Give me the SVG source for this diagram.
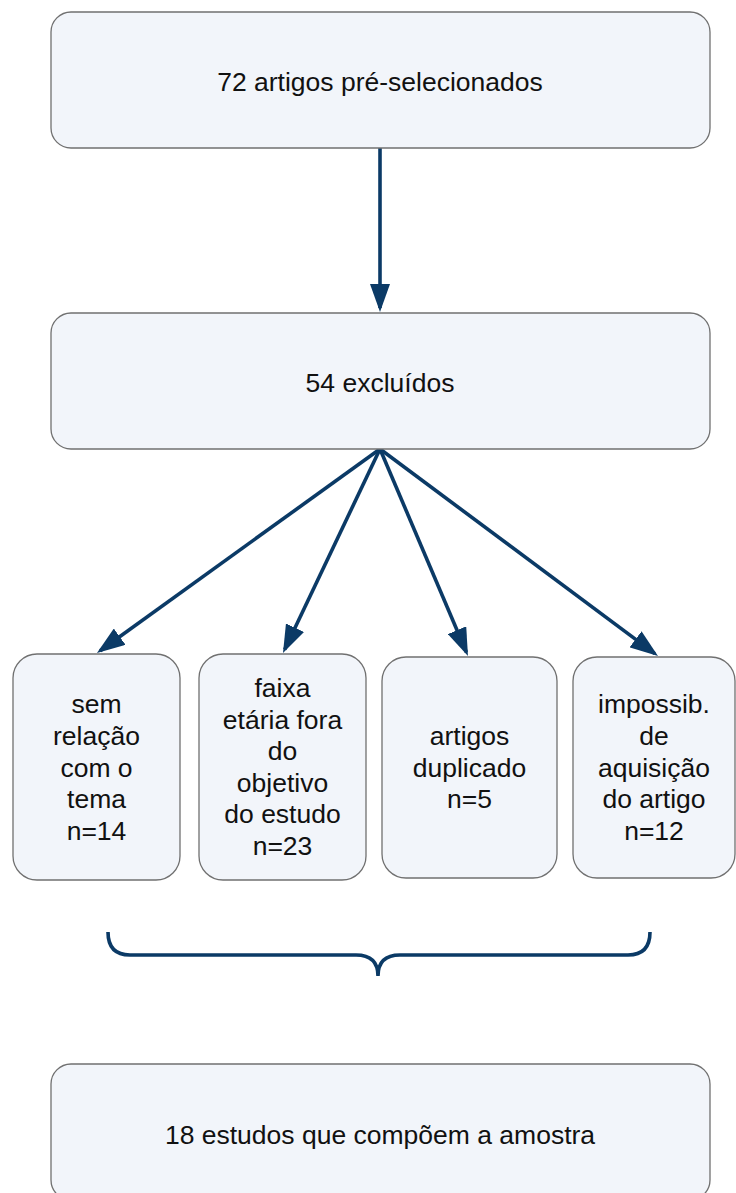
<svg xmlns="http://www.w3.org/2000/svg" width="736" height="1193" viewBox="0 0 736 1193">
<style>
.box{fill:#f2f5fa;stroke:#707070;stroke-width:1.3}
.t{font-family:"Liberation Sans",Arial,sans-serif;font-size:26.5px;fill:#111;text-anchor:middle}
.c{stroke:#0b3a66;stroke-width:3.6;fill:none}
</style>
<defs>
<marker id="ah" markerUnits="userSpaceOnUse" markerWidth="28" markerHeight="20" refX="24" refY="10" orient="auto" viewBox="0 0 28 20">
<path d="M0,0 L28,10 L0,20 Z" fill="#0b3a66"/>
</marker>
</defs>
<rect width="736" height="1193" fill="#ffffff"/>
<g id="connectors">
<line class="c" x1="380" y1="148" x2="380" y2="308" marker-end="url(#ah)"/>
<line class="c" x1="380" y1="449" x2="100.2" y2="650.7" marker-end="url(#ah)"/>
<line class="c" x1="380" y1="449" x2="284.7" y2="649.4" marker-end="url(#ah)"/>
<line class="c" x1="380" y1="449" x2="466.4" y2="652.3" marker-end="url(#ah)"/>
<line class="c" x1="380" y1="449" x2="654.8" y2="653.6" marker-end="url(#ah)"/>
<path id="brace" class="c" d="M108,932 Q108,955 130,955 L356,955 Q378,955 378,976 M650,932 Q650,955 628,955 L400,955 Q378,955 378,976"/>
</g>
<g id="n1"><rect class="box" x="51" y="12" width="659" height="136" rx="20"/><text class="t" x="380" y="91">72 artigos pré-selecionados</text></g>
<g id="n2"><rect class="box" x="51" y="313" width="659" height="136" rx="20"/><text class="t" x="380" y="392">54 excluídos</text></g>
<g id="n3"><rect class="box" x="13" y="654" width="167" height="226" rx="24"/>
<text class="t" x="96.5" y="713">sem</text><text class="t" x="96.5" y="745">relação</text><text class="t" x="96.5" y="777">com o</text><text class="t" x="96.5" y="808">tema</text><text class="t" x="96.5" y="840">n=14</text></g>
<g id="n4"><rect class="box" x="199" y="654" width="167" height="226" rx="24"/>
<text class="t" x="282.5" y="697">faixa</text><text class="t" x="282.5" y="729">etária fora</text><text class="t" x="282.5" y="760">do</text><text class="t" x="282.5" y="792">objetivo</text><text class="t" x="282.5" y="823">do estudo</text><text class="t" x="282.5" y="855">n=23</text></g>
<g id="n5"><rect class="box" x="382" y="657" width="175" height="221" rx="24"/>
<text class="t" x="469.5" y="745">artigos</text><text class="t" x="469.5" y="777">duplicado</text><text class="t" x="469.5" y="808">n=5</text></g>
<g id="n6"><rect class="box" x="573" y="657" width="162" height="221" rx="24"/>
<text class="t" x="654" y="713">impossib.</text><text class="t" x="654" y="745">de</text><text class="t" x="654" y="777">aquisição</text><text class="t" x="654" y="808">do artigo</text><text class="t" x="654" y="840">n=12</text></g>
<g id="n7"><rect class="box" x="51" y="1064" width="659" height="136" rx="20"/><text class="t" x="380" y="1144">18 estudos que compõem a amostra</text></g>
</svg>
